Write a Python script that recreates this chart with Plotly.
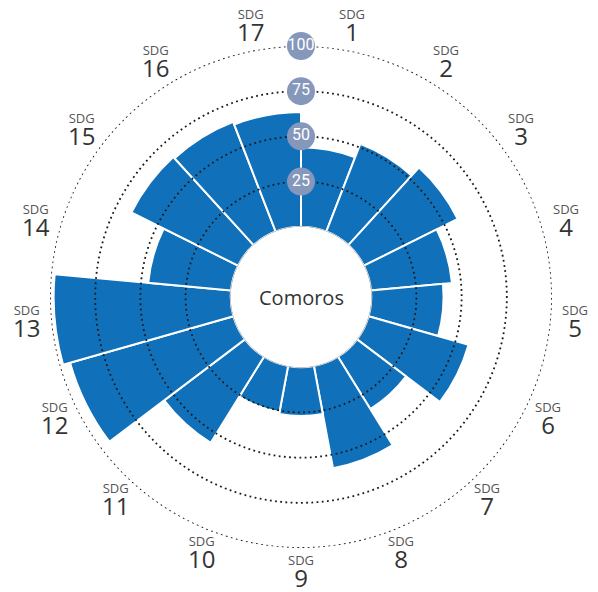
import numpy as np
import plotly.graph_objects as go

# ---- data ----
sdg_numbers = ["1", "2", "3", "4", "5", "6", "7", "8", "9", "10",
               "11", "12", "13", "14", "15", "16", "17"]
scores = [44, 52, 58, 45, 40, 57.5, 34, 57.5, 27, 26, 56, 94, 98, 46, 66, 65, 63.5]
ring_values = [25, 50, 75, 100]
ring_labels = ["25", "50", "75", "100"]
country = "Comoros"

BLUE = "#1071ba"
BADGE = "#8597ba"
FONT = "Open Sans"

W, H = 590, 584          # page body adds an 8px margin
ML, MR, MT, MB = 42, 46, 38, 44
PW = W - ML - MR         # 502 px square plot area
PH = H - MT - MB

n = len(scores)
step = 360.0 / n
theta = [(i + 0.5) * step for i in range(n)]

fig = go.Figure()

# bars
fig.add_trace(go.Barpolar(
    r=scores, theta=theta, width=[step] * n,
    marker=dict(color=BLUE, line=dict(color="white", width=2)),
    hoverinfo="skip", showlegend=False,
))

# dotted reference circles drawn on top of bars
circ_theta = np.linspace(0, 360, 721)
for v in ring_values:
    fig.add_trace(go.Scatterpolar(
        r=[v] * len(circ_theta), theta=circ_theta, mode="lines",
        line=dict(color="#1a1a1a", width=1.8, dash="1.8px,3.4px"),
        hoverinfo="skip", showlegend=False, cliponaxis=False,
    ))

# subtle outline of the centre hole
fig.add_trace(go.Scatterpolar(
    r=[0] * len(circ_theta), theta=circ_theta, mode="lines",
    line=dict(color="#9a9a9a", width=1),
    hoverinfo="skip", showlegend=False, cliponaxis=False,
))

# value badges
fig.add_trace(go.Scatterpolar(
    r=ring_values, theta=[0] * len(ring_values), mode="markers+text",
    text=ring_labels, textposition="middle center",
    marker=dict(size=28, color=BADGE, line=dict(width=0)),
    textfont=dict(color="white", size=16, family="Liberation Sans Narrow, Roboto"),
    hoverinfo="skip", showlegend=False, cliponaxis=False,
))

# SDG labels around the outside (placed along each bar's angle)
label_r_px = 275.5
for s, t in zip(sdg_numbers, theta):
    a = np.deg2rad(t)
    dx = label_r_px * np.sin(a)
    dy = label_r_px * np.cos(a)
    fig.add_annotation(
        x=0.5 + dx / PW, y=0.5 + dy / PH, xref="paper", yref="paper",
        text=(f"<span style='font-size:13px;color:#555555'>SDG</span><br>"
              f"<span style='font-size:24px;color:#333333'>{s}</span>"),
        showarrow=False, align="center", xanchor="center", yanchor="middle",
        font=dict(family=FONT, size=17, color="#333333"),
    )

fig.add_annotation(
    x=0.5, y=0.5, xref="paper", yref="paper", text=country,
    showarrow=False, font=dict(family=FONT, size=20, color="#333333"),
    xanchor="center", yanchor="middle",
)

fig.update_layout(
    width=W, height=H,
    margin=dict(l=ML, r=MR, t=MT, b=MB),
    paper_bgcolor="white", plot_bgcolor="white",
    showlegend=False,
    font=dict(family=FONT),
    polar=dict(
        bgcolor="white",
        hole=0.28,
        domain=dict(x=[0, 1], y=[0, 1]),
        radialaxis=dict(range=[0, 100], visible=False, showgrid=False),
        angularaxis=dict(visible=False, showgrid=False, rotation=90,
                         direction="clockwise"),
    ),
)

fig.write_html("out.html")
